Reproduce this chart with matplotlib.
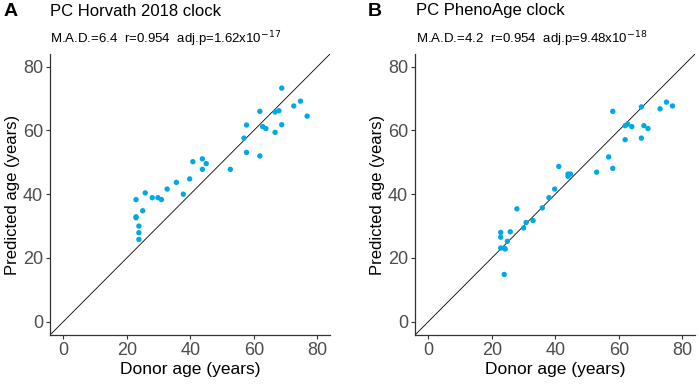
import matplotlib
matplotlib.use("Agg")
import matplotlib.pyplot as plt

plt.rcParams['font.family'] = ['Liberation Sans', 'DejaVu Sans']

# Panel A: PC Horvath 2018 clock
horvath_donor = [22.9, 22.9, 22.9, 23.8, 23.8, 23.8, 25.0, 25.8, 28.0, 29.8,
                 30.9, 32.7, 35.6, 37.8, 39.8, 40.8, 43.8, 43.8, 45.0, 52.6,
                 56.9, 57.7, 57.7, 61.9, 61.9, 62.8, 63.8, 66.7, 66.7, 67.9,
                 68.8, 68.8, 72.6, 74.7, 76.8]
horvath_pred = [38.3, 32.9, 32.6, 30.0, 27.9, 25.8, 34.8, 40.4, 38.9, 38.9,
                38.3, 41.6, 43.7, 40.0, 44.8, 50.2, 51.1, 47.8, 49.6, 47.8,
                57.6, 61.7, 53.1, 66.0, 52.0, 61.2, 60.6, 65.8, 59.4, 66.2,
                73.3, 61.8, 67.7, 69.2, 64.5]

# Panel B: PC PhenoAge clock
pheno_donor = [22.8, 22.8, 22.8, 23.9, 24.2, 23.9, 24.9, 25.8, 27.9, 30.0,
               30.8, 33.0, 35.9, 38.0, 39.8, 41.1, 44.0, 44.0, 44.8, 53.0,
               56.8, 58.1, 58.1, 62.0, 62.8, 64.1, 62.0, 67.1, 67.1, 67.9,
               69.2, 73.0, 75.0, 76.9]
pheno_pred = [28.0, 26.5, 23.1, 23.1, 22.8, 14.8, 25.2, 28.2, 35.4, 29.4,
              31.1, 31.7, 35.7, 38.9, 41.6, 48.7, 45.6, 46.3, 46.3, 46.9,
              51.7, 66.0, 48.1, 61.5, 62.0, 61.2, 57.1, 67.4, 57.6, 61.5,
              60.6, 66.8, 68.9, 67.7]

ticks = [0, 20, 40, 60, 80]
point_color = '#00A8E8'

fig = plt.figure(figsize=(6.99, 3.84), dpi=100)
ax_a = fig.add_axes([50 / 699, 1 - 335 / 384, 280 / 699, 281 / 384])
ax_b = fig.add_axes([415 / 699, 1 - 335 / 384, 280 / 699, 281 / 384])

panels = [
    (ax_a, horvath_donor, horvath_pred, 'A', 'PC Horvath 2018 clock',
     r'M.A.D.=6.4  r=0.954  adj.p=1.62x10$^{-17}$', 4 / 699, 50 / 699),
    (ax_b, pheno_donor, pheno_pred, 'B', 'PC PhenoAge clock',
     r'M.A.D.=4.2  r=0.954  adj.p=9.48x10$^{-18}$', 368 / 699, 416 / 699),
]

for ax, xs, ys, letter, title, sub, lx, tx in panels:
    ax.axline((0, 0), slope=1, color='black', linewidth=0.6, zorder=1)
    ax.scatter(xs, ys, s=15, color=point_color, edgecolors='none', zorder=2)
    ax.set_xlim(-4.2, 84)
    ax.set_ylim(-4.2, 84)
    ax.set_xticks(ticks)
    ax.set_yticks(ticks)
    for side in ('top', 'right'):
        ax.spines[side].set_visible(False)
    for side in ('left', 'bottom'):
        ax.spines[side].set_color('#333333')
        ax.spines[side].set_linewidth(0.9)
    ax.tick_params(colors='#333333', labelcolor='#4D4D4D', labelsize=13,
                   length=3, width=0.8, pad=2)
    ax.set_xlabel('Donor age (years)', fontsize=12.5, labelpad=2)
    ax.set_ylabel('Predicted age (years)', fontsize=12, labelpad=2)
    fig.text(lx, 1 - 12 / 384, letter, fontsize=14, fontweight='bold', va='center')
    fig.text(tx, 1 - 11 / 384, title, fontsize=12, va='center')
    fig.text(tx, 1 - 39 / 384, sub, fontsize=9.5, va='center')

fig.savefig('out.png', dpi=100)
